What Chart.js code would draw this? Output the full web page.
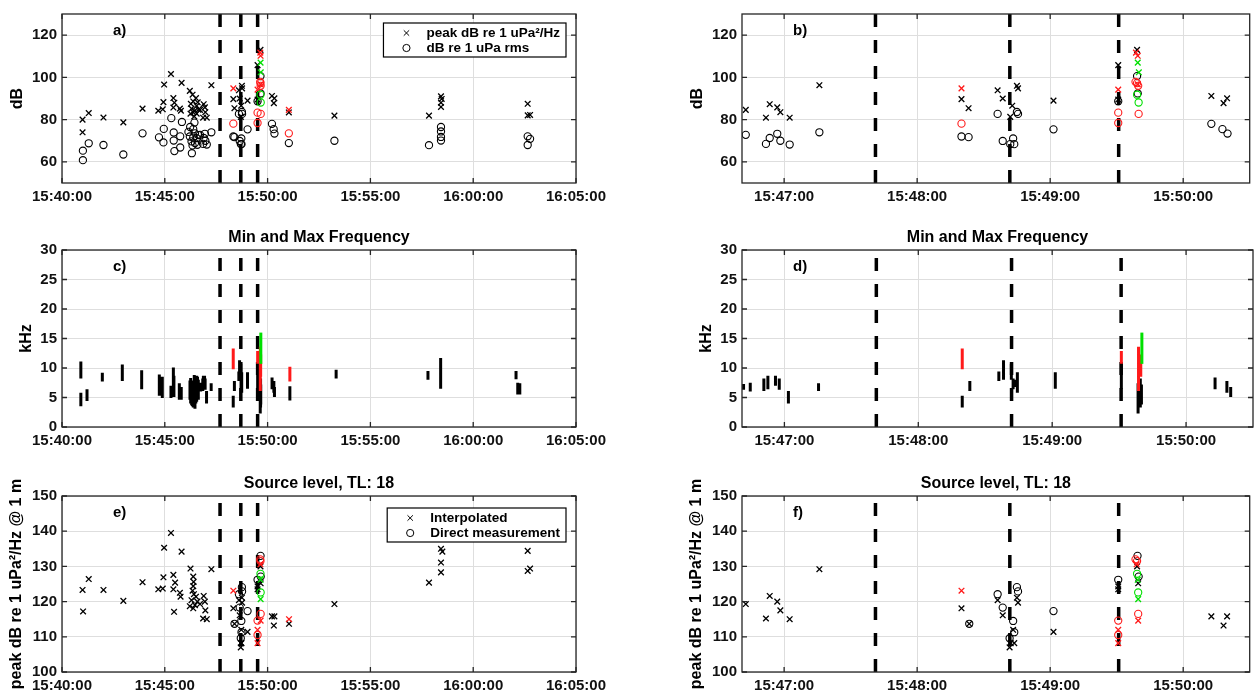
<!DOCTYPE html>
<html>
<head>
<meta charset="utf-8">
<script src="https://cdn.jsdelivr.net/npm/chart.js@4.4.1/dist/chart.umd.min.js"></script>
<style>
  body { margin: 0; background: #fff; width: 1255px; height: 696px; position: relative; overflow: hidden; }
  canvas { position: absolute; }
</style>
</head>
<body>
<canvas id="chartA" width="620" height="215" style="left:0;top:0"></canvas>
<canvas id="chartB" width="575" height="215" style="left:680px;top:0"></canvas>
<canvas id="chartC" width="620" height="235" style="left:0;top:220px"></canvas>
<canvas id="chartD" width="575" height="235" style="left:680px;top:220px"></canvas>
<canvas id="chartE" width="620" height="234" style="left:0;top:462px"></canvas>
<canvas id="chartF" width="575" height="234" style="left:680px;top:462px"></canvas>
<script>
// all times are seconds after 15:40:00
const START_SEC = 15 * 3600 + 40 * 60;

// marker times of the three dashed reference lines
const eventTimes = [461.2, 521.8, 570.9];

// received level: [time, dB]
const peakBlack = [[60,80],[60,74],[78,83.1],[121,81],[179,78.7],[235,85.2],[281,84.2],[294,84.9],[296,88.3],[298,96.6],
  [318,101.6],[325,90.2],[325,85.7],[328,88],[344,85.2],[347,84.2],[349,97.4],[373,93.6],[375,82.8],[376,87.5],
  [378,85.2],[381,91.8],[383,88.6],[383,83.4],[386,81.5],[388,84.3],[391,90.2],[393,86.5],[393,82.8],[396,88.2],[398,84.7],
  [402.7,84.6],[411.8,80.9],[413.5,87.3],[416.9,85.8],[418.3,83.5],[422.5,80.9],[435.9,96.3],
  [500,89.7],[503.2,85.4],[516.3,93.9],[518.6,90],[522,81.3],[522.9,86.6],[525,96],[525.5,94.8],[541.5,89],
  [570.7,105.8],[570.7,89.5],[579.2,113],[612.7,91.2],[618.2,87.8],[619.8,90.1],
  [662,83.4],[795,81.9],[1071,81.9],[1106,91],[1108,89.8],[1106,88],[1106,86],[1359,87.5],[1359,82],[1366,82.2]];
const peakRed = [[500,94.8],[570.7,94.2],[578.7,111.7],[579.5,110.2],[579.5,96.7],[662,84.6]];
const peakGreen = [[579.5,107],[580,102.4]];

const rmsBlack = [[61,60.8],[61,65.3],[78,68.8],[121,68],[179,63.5],[235,73.5],[283,71.6],[296,69.2],[297,75.6],[319,80.7],
  [326,73.9],[326,70.1],[328,65.1],[345,72.1],[345,66.8],[350,78.9],[369,74.2],[373,72],[374,76.5],[378,69.7],
  [379,64.1],[381,67.8],[383,71.5],[383,75.5],[386.5,78.6],[388,73.5],[388,68.9],[393,71.2],[395,68.1],[398,72.7],
  [402.7,72.8],[411.8,68.5],[413.5,71.3],[416.9,73.3],[418.3,70],[422.5,68.2],[435.9,74],
  [500,72],[503.2,71.7],[516.3,82.7],[518.6,69.9],[522,68.4],[523.3,71.1],[523.8,68.4],[525,83.6],[525.5,82.7],[541.5,75.4],
  [570.7,88.7],[579.2,100.6],[579.5,92.4],[612.7,78],[617.7,75.5],[620,73.4],
  [662,68.9],[795,70],[1071,67.9],[1106,76.5],[1106,74.4],[1106,71.8],[1106,70.1],[1359,72.1],[1359,68],[1366,70.9]];
const rmsRed = [[500,78.1],[570.7,83.3],[570.7,78.4],[578.5,97.9],[579.2,97.3],[579.7,96],[579.9,82.7],[662,73.5]];
const rmsGreen = [[579.2,91.8],[579.9,88.1]];

// frequency band: [time, min kHz, max kHz]
const freqBlack = [[55,8.2,11.1],[55,3.5,5.8],[73,4.4,6.4],[117.7,7.7,9.2],[176,7.8,10.6],[232.5,6.4,9.6],[284,5.3,8.9],
  [292.7,4.9,8.5],[318,4.9,7.0],[325,5.7,10.1],[326.6,5.1,8.7],[342.4,4.6,7.4],[348,4.6,6.8],
  [373.5,4.6,7.9],[375.5,4.0,8.3],[378.4,3.7,7.4],[380.5,3.5,7.0],[383.2,3.3,7.9],[386,3.8,8.8],[388,3.1,8.5],
  [390.5,4.0,8.0],[393,4.3,8.7],[395.5,4.8,8.5],[397.8,4.6,8.0],
  [401.7,6.3,7.3],[404.7,6.0,7.5],[410.8,6.1,8.2],[412.6,6.4,8.7],[416,7.0,8.7],[417.7,6.3,8.2],[421.8,4.0,6.1],[435.3,6.1,7.4],
  [499.7,3.3,5.3],[503.1,6.1,7.8],[516.1,7.8,9.4],[518.2,8.0,11.3],[521.7,8.0,10.7],[522.5,6.4,8.2],[523.5,6.8,8.0],
  [524.4,5.8,9.3],[541.4,6.5,9.3],[571,8.2,10.7],[571,6.5,8.4],[578.5,2.3,7.4],[579.5,3.3,8.2],[580,3.8,7.2],
  [613,6.4,8.4],[618.3,5.8,7.8],[620,5.1,6.8],
  [665,4.5,6.9],[800,8.2,9.7],[1068,8.0,9.5],[1105,6.5,11.7],[1325,8.1,9.5],[1330,5.5,7.5],[1336,5.5,7.4]];
const freqRed = [[499.7,9.8,13.3],[571,10.7,12.9],[578.7,6.1,13.6],[579.7,8.5,12.3],[665,7.7,10.2]];
const freqGreen = [[580.2,10.7,16.0]];

// source level: [time, dB]
const interpBlack = [[60,123.3],[61.5,117.2],[78,126.4],[121,123.3],[179,120.2],[235,125.5],[281,123.5],[294,123.7],
  [296,126.9],[298,135.3],[318,139.5],[325,127.6],[330,125.4],[325,123.5],[327,117.1],[344,122.5],[346,121.4],[349,134.2],
  [375,129.4],[383,127.1],[384,125.6],[383,124.4],[381,123.1],[385,122.1],[391,121.4],[378,120.4],[373,118.7],[383,118.1],
  [388,119],[395,120],
  [402.7,119.3],[411.8,115.2],[413.5,121.6],[416.9,120],[418.3,117.5],[422.5,115],[435.9,129.2],
  [500,118.1],[503.5,113.7],[516.3,120.4],[518.6,116.1],[521.7,107],[522.2,108.2],[523.3,112],[523.8,108.2],
  [525,121.1],[525.5,119.7],[541.5,111.4],[570.7,123.5],[570.7,124.3],[579.2,130],[579.7,125.2],
  [612.7,115.8],[618.2,113.2],[619.8,115.8],
  [662.5,113.7],[795,119.3],[1071,125.4],[1106,135],[1110,134.2],[1106,131.1],[1106,128.3],[1359,134.4],[1359,128.7],[1366,129.4]];
const interpRed = [[500,123.1],[570.7,112],[570.7,108.2],[579,130.6],[579.7,114.6],[662.5,115]];
const interpGreen = [[579.5,126.2],[579.7,120.7]];
const directBlack = [[503.5,113.7],[516.3,122.1],[518.6,118.3],[521.7,109.6],[523.3,114.5],[523.8,111.3],[525,124.1],
  [525.5,122.9],[541.5,117.3],[570.7,126.2],[579.4,133],[579.9,127.1]];
const directRed = [[570.7,114.6],[570.7,110.5],[578.5,132],[579.2,131.5],[579.7,116.5]];
const directGreen = [[579.2,127.9],[579.7,122.6]];

// axis limits and ticks
const wideRange = [0, 1500], zoomRange = [401, 630];
const wideTicks = [0, 300, 600, 900, 1200, 1500];
const zoomTicks = [420, 480, 540, 600];
const levelRange = [50, 130], levelTicks = [60, 80, 100, 120];
const freqRange = [0, 30], freqTicks = [0, 5, 10, 15, 20, 25, 30];
const sourceRange = [100, 150], sourceTicks = [100, 110, 120, 130, 140, 150];

const FONT = '"Liberation Sans", Arial, Helvetica, sans-serif';
const RED = '#ff1a1a', GREEN = '#00e000', GRID = '#dedede';

Chart.defaults.font.family = FONT;
Chart.defaults.font.size = 15;
Chart.defaults.font.weight = 'bold';
Chart.defaults.color = '#111';

function pad2(n) { return String(n).padStart(2, '0'); }
function clock(sec) {
  const s = Math.round(START_SEC + sec);
  return pad2(Math.floor(s / 3600)) + ':' + pad2(Math.floor(s % 3600 / 60)) + ':' + pad2(s % 60);
}

function markers(points, color, style, order) {
  return {
    data: points.map(p => ({ x: p[0], y: p[1] })),
    showLine: false,
    pointStyle: style,
    pointRadius: style === 'crossRot' ? 4 : 3.6,
    borderColor: color,
    backgroundColor: 'transparent',
    pointBorderWidth: style === 'crossRot' ? 1.3 : 1.1,
    order: order
  };
}

function bars(list, color, order) {
  const data = [];
  list.forEach(b => { data.push({ x: b[0], y: b[1] }, { x: b[0], y: b[2] }, { x: b[0], y: null }); });
  return { data, showLine: true, spanGaps: false, borderColor: color, borderWidth: 3,
           borderCapStyle: 'butt', pointRadius: 0, order: order };
}

function eventLines(range) {
  return eventTimes.map(t => ({
    data: [{ x: t, y: range[0] }, { x: t, y: range[1] }],
    showLine: true, borderColor: '#000', borderWidth: 3.5, borderDash: [13, 13],
    borderCapStyle: 'butt', pointRadius: 0, order: 10
  }));
}

function drawKey(ctx, style, x, y) {
  ctx.beginPath();
  if (style === 'cross') {
    ctx.moveTo(x - 2.7, y - 2.7); ctx.lineTo(x + 2.7, y + 2.7);
    ctx.moveTo(x + 2.7, y - 2.7); ctx.lineTo(x - 2.7, y + 2.7);
  } else {
    ctx.arc(x, y, 3.6, 0, Math.PI * 2);
  }
  ctx.stroke();
}

// axes box with inward ticks, panel letter, title and boxed legend
const panelDecor = {
  id: 'panelDecor',
  afterDatasetsDraw(chart, args, opts) {
    const { ctx, chartArea: a, scales: { x, y } } = chart;
    ctx.save();
    ctx.strokeStyle = '#262626';
    ctx.lineWidth = 1.3;
    ctx.strokeRect(a.left, a.top, a.right - a.left, a.bottom - a.top);
    ctx.beginPath();
    x.ticks.forEach(t => {
      const px = x.getPixelForValue(t.value);
      ctx.moveTo(px, a.bottom); ctx.lineTo(px, a.bottom - 5);
      ctx.moveTo(px, a.top); ctx.lineTo(px, a.top + 5);
    });
    y.ticks.forEach(t => {
      const py = y.getPixelForValue(t.value);
      ctx.moveTo(a.left, py); ctx.lineTo(a.left + 5, py);
      ctx.moveTo(a.right, py); ctx.lineTo(a.right - 5, py);
    });
    ctx.stroke();

    ctx.fillStyle = '#000';
    ctx.font = 'bold 15px ' + FONT;
    ctx.textAlign = 'left';
    ctx.textBaseline = 'middle';
    ctx.fillText(opts.letter, a.left + 51, a.top + 17);

    if (opts.title) {
      ctx.font = 'bold 16px ' + FONT;
      ctx.textAlign = 'center';
      ctx.textBaseline = 'alphabetic';
      ctx.fillText(opts.title, (a.left + a.right) / 2, a.top - 8);
    }

    if (opts.legend) {
      ctx.font = 'bold 13.5px ' + FONT;
      const textW = Math.max(...opts.legend.map(it => ctx.measureText(it.label).width));
      const w = 44 + textW + 5, h = 34;
      const bx = a.right - 10 - w, by = a.top + opts.legendTop;
      ctx.fillStyle = '#fff';
      ctx.fillRect(bx, by, w, h);
      ctx.strokeStyle = '#000';
      ctx.lineWidth = 1.2;
      ctx.strokeRect(bx, by, w, h);
      ctx.lineWidth = 1;
      ctx.fillStyle = '#000';
      ctx.textAlign = 'left';
      ctx.textBaseline = 'middle';
      opts.legend.forEach((it, i) => {
        const cy = by + 10 + i * 15;
        drawKey(ctx, it.style, bx + 23, cy);
        ctx.fillText(it.label, bx + 43, cy + 0.5);
      });
    }
    ctx.restore();
  }
};

function makeChart(p) {
  const datasets = [...p.datasets, ...eventLines(p.yRange)];
  new Chart(document.getElementById(p.id), {
    type: 'scatter',
    data: { datasets },
    options: {
      responsive: false,
      animation: false,
      events: [],
      layout: { padding: { left: 0, top: p.pad[0], right: p.pad[1], bottom: p.pad[2] } },
      plugins: {
        legend: { display: false },
        tooltip: { enabled: false },
        panelDecor: { letter: p.letter, title: p.title, legend: p.legend, legendTop: p.legendTop }
      },
      scales: {
        x: {
          type: 'linear', min: p.xRange[0], max: p.xRange[1],
          afterBuildTicks: s => { s.ticks = p.xTicks.map(v => ({ value: v })); },
          afterFit: s => { s.height = 24; },
          grid: { color: GRID, drawTicks: false },
          border: { display: false },
          ticks: { padding: 5, maxRotation: 0, autoSkip: false, callback: v => clock(v) }
        },
        y: {
          type: 'linear', min: p.yRange[0], max: p.yRange[1],
          afterBuildTicks: s => { s.ticks = p.yTicks.map(v => ({ value: v })); },
          afterFit: s => { s.width = 62; },
          grid: { color: GRID, drawTicks: false },
          border: { display: false },
          ticks: { padding: 5 },
          title: { display: true, text: p.yTitle, font: { size: 16, weight: 'bold' }, color: '#000',
                   padding: { top: p.titlePad, bottom: 0 } }
        }
      }
    },
    plugins: [panelDecor]
  });
}

const levelSets = () => [
  markers(peakGreen, GREEN, 'crossRot', 1), markers(rmsGreen, GREEN, 'circle', 1),
  markers(peakRed, RED, 'crossRot', 2), markers(rmsRed, RED, 'circle', 2),
  markers(peakBlack, '#000', 'crossRot', 3), markers(rmsBlack, '#000', 'circle', 3)
];
const freqSets = () => [bars(freqGreen, GREEN, 1), bars(freqRed, RED, 2), bars(freqBlack, '#000', 3)];
const sourceSets = () => [
  markers(interpGreen, GREEN, 'crossRot', 1), markers(directGreen, GREEN, 'circle', 1),
  markers(interpRed, RED, 'crossRot', 2), markers(directRed, RED, 'circle', 2),
  markers(interpBlack, '#000', 'crossRot', 3), markers(directBlack, '#000', 'circle', 3)
];

const levelKey = [{ label: 'peak dB re 1 uPa\u00B2/Hz', style: 'cross' }, { label: 'dB re 1 uPa rms', style: 'circle' }];
const sourceKey = [{ label: 'Interpolated', style: 'cross' }, { label: 'Direct measurement', style: 'circle' }];
const sourceTitle = 'peak dB re 1 uPa\u00B2/Hz @ 1 m';

makeChart({ id: 'chartA', pad: [8, 44, 8], xRange: wideRange, xTicks: wideTicks, yRange: levelRange, yTicks: levelTicks,
  yTitle: 'dB', titlePad: 8, letter: 'a)', legend: levelKey, legendTop: 9, datasets: levelSets() });
makeChart({ id: 'chartB', pad: [8, 2, 8], xRange: zoomRange, xTicks: zoomTicks, yRange: levelRange, yTicks: levelTicks,
  yTitle: 'dB', titlePad: 8, letter: 'b)', datasets: levelSets() });
makeChart({ id: 'chartC', pad: [30, 44, 4], xRange: wideRange, xTicks: wideTicks, yRange: freqRange, yTicks: freqTicks,
  yTitle: 'kHz', titlePad: 17, letter: 'c)', title: 'Min and Max Frequency', datasets: freqSets() });
makeChart({ id: 'chartD', pad: [30, 2, 4], xRange: zoomRange, xTicks: zoomTicks, yRange: freqRange, yTicks: freqTicks,
  yTitle: 'kHz', titlePad: 17, letter: 'd)', title: 'Min and Max Frequency', datasets: freqSets() });
makeChart({ id: 'chartE', pad: [34, 44, 0], xRange: wideRange, xTicks: wideTicks, yRange: sourceRange, yTicks: sourceTicks,
  yTitle: sourceTitle, titlePad: 7, letter: 'e)', title: 'Source level, TL: 18', legend: sourceKey, legendTop: 12,
  datasets: sourceSets() });
makeChart({ id: 'chartF', pad: [34, 2, 0], xRange: zoomRange, xTicks: zoomTicks, yRange: sourceRange, yTicks: sourceTicks,
  yTitle: sourceTitle, titlePad: 7, letter: 'f)', title: 'Source level, TL: 18', datasets: sourceSets() });
</script>
</body>
</html>
